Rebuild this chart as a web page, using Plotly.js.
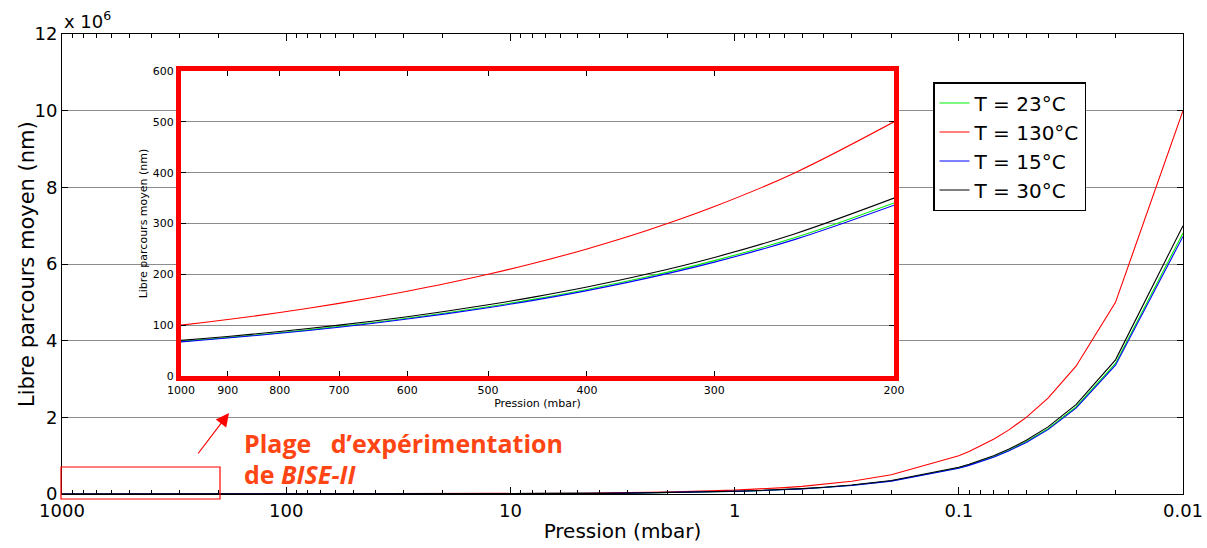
<!DOCTYPE html>
<html>
<head>
<meta charset="utf-8">
<script src="https://cdn.plot.ly/plotly-3.0.1.min.js"></script>
<style>
  html, body { margin: 0; padding: 0; background: #fff; }
  #chart { width: 1207px; height: 548px; }
</style>
</head>
<body>
<div id="chart"></div>
<script>
// Pressure samples (mbar) – main log plot
const pressure = [1000,900,800,700,600,500,400,300,200,
  100,90,80,70,60,50,40,30,20,
  10,9,8,7,6,5,4,3,2,
  1,0.9,0.8,0.7,0.6,0.5,0.4,0.3,0.2,
  0.1,0.09,0.08,0.07,0.06,0.05,0.04,0.03,0.02,0.01];

// Mean free path (nm)
const mfp23 = [68.1,75.7,85.1,97.3,113.5,136.2,170.3,227,340.5,
  681,756.7,851.3,972.9,1135,1362,1702.5,2270,3405,
  6810,7566.7,8512.5,9728.6,11350,13620,17025,22700,34050,
  68100,75667,85125,97286,113500,136200,170250,227000,340500,
  681000,756667,851250,972857,1135000,1362000,1702500,2270000,3405000,6810000];
const mfp130 = [100,111.1,125,142.9,166.7,200,250,333.3,500,
  1000,1111,1250,1429,1667,2000,2500,3333,5000,
  10000,11111,12500,14286,16667,20000,25000,33333,50000,
  100000,111111,125000,142857,166667,200000,250000,333333,500000,
  1000000,1111111,1250000,1428571,1666667,2000000,2500000,3333333,5000000,10000000];
const mfp15 = [67.2,74.7,84,96,112,134.4,168,224,336,
  672,746.7,840,960,1120,1344,1680,2240,3360,
  6720,7466.7,8400,9600,11200,13440,16800,22400,33600,
  67200,74667,84000,96000,112000,134400,168000,224000,336000,
  672000,746667,840000,960000,1120000,1344000,1680000,2240000,3360000,6720000];
const mfp30 = [70,77.8,87.5,100,116.7,140,175,233.3,350,
  700,777.8,875,1000,1166.7,1400,1750,2333.3,3500,
  7000,7777.8,8750,10000,11666.7,14000,17500,23333,35000,
  70000,77778,87500,100000,116667,140000,175000,233333,350000,
  700000,777778,875000,1000000,1166667,1400000,1750000,2333333,3500000,7000000];

// Inset (zoom on the experiment range 1000 – 200 mbar)
const insetPressure = [1000,950,900,850,800,750,700,650,600,550,500,450,400,350,300,250,200];
const inset23  = [68.1,71.7,75.7,80.1,85.1,90.8,97.3,104.8,113.5,123.8,136.2,151.3,170.3,194.6,227,272.4,340.5];
const inset130 = [100,105.3,111.1,117.6,125,133.3,142.9,153.8,166.7,181.8,200,222.2,250,285.7,333.3,400,500];
const inset15  = [67.2,70.7,74.7,79.1,84,89.6,96,103.4,112,122.2,134.4,149.3,168,192,224,268.8,336];
const inset30  = [70,73.7,77.8,82.4,87.5,93.3,100,107.7,116.7,127.3,140,155.6,175,200,233.3,280,350];

const seriesNames = ['T = 23°C','T = 130°C','T = 15°C','T = 30°C'];
const seriesData = [mfp23, mfp130, mfp15, mfp30];
const insetData = [inset23, inset130, inset15, inset30];
const seriesColors = ['#00ee00','#ff0000','#0000ff','#000000'];

// Tick labels
const mainXTicks = [1000,100,10,1,0.1,0.01];
const mainXTickText = ['1000','100','10','1','0.1','0.01'];
const mainYTicks = [0,2e6,4e6,6e6,8e6,10e6,12e6];
const mainYTickText = ['0','2','4','6','8','10','12'];
const insetXTicks = [1000,900,800,700,600,500,400,300,200];
const insetXTickText = ['1000','900','800','700','600','500','400','300','200'];
const insetYTicks = [0,100,200,300,400,500,600];

const FONT = 'DejaVu Sans, Verdana, sans-serif';
const traces = [];
seriesData.forEach((d, i) => {
  traces.push({
    x: pressure, y: d, type: 'scatter', mode: 'lines',
    name: seriesNames[i], line: {color: seriesColors[i], width: 1.1},
    xaxis: 'x', yaxis: 'y', showlegend: true, hoverinfo: 'skip'
  });
});
insetData.forEach((d, i) => {
  traces.push({
    x: insetPressure, y: d,
    type: 'scatter', mode: 'lines', name: seriesNames[i],
    line: {color: seriesColors[i], width: 1.1, shape: 'spline', smoothing: 1},
    xaxis: 'x2', yaxis: 'y2', showlegend: false, hoverinfo: 'skip'
  });
});

// geometry helpers (paper coordinates of main plot area)
const W = 1207, H = 548, mL = 62, mR = 24, mT = 34, mB = 54;
const pw = W - mL - mR, ph = H - mT - mB;
const px = v => (v - mL) / pw;
const py = v => (H - mB - v) / ph;

const layout = {
  width: W, height: H,
  margin: {l: mL, r: mR, t: mT, b: mB},
  paper_bgcolor: '#ffffff', plot_bgcolor: '#ffffff',
  font: {family: FONT, color: '#000', size: 18},
  showlegend: true,
  legend: {
    x: px(933), y: py(82), xanchor: 'left', yanchor: 'top',
    bgcolor: '#ffffff', bordercolor: '#000', borderwidth: 1.5,
    font: {family: FONT, size: 20, color: '#000'},
    itemwidth: 30, tracegroupgap: 0
  },
  xaxis: {
    type: 'log', range: [3, -2], domain: [0, 1],
    tickvals: mainXTicks, ticktext: mainXTickText,
    ticks: 'inside', ticklen: 7, tickcolor: '#000', tickwidth: 1,
    minor: {ticks: 'inside', ticklen: 4, tickcolor: '#000', dtick: 'D1', showgrid: false},
    showline: true, linecolor: '#000', linewidth: 1, mirror: 'ticks',
    showgrid: false, zeroline: false,
    tickfont: {family: FONT, size: 18, color: '#000'},
    title: {text: 'Pression (mbar)', font: {family: FONT, size: 20, color: '#000'}, standoff: 4}
  },
  yaxis: {
    range: [0, 12e6], domain: [0, 1],
    tickvals: mainYTicks, ticktext: mainYTickText,
    ticks: 'inside', ticklen: 6, tickcolor: '#000',
    showline: true, linecolor: '#000', linewidth: 1, mirror: 'ticks',
    showgrid: true, gridcolor: '#8c8c8c', gridwidth: 1, zeroline: false,
    tickfont: {family: FONT, size: 18, color: '#000'}
  },
  xaxis2: {
    anchor: 'y2', domain: [px(181), px(894)],
    type: 'log', range: [3, Math.log10(200)],
    tickvals: insetXTicks, ticktext: insetXTickText,
    ticks: 'inside', ticklen: 5, tickcolor: '#000',
    showline: true, linecolor: '#ff0000', linewidth: 5, mirror: 'ticks',
    showgrid: false, zeroline: false,
    tickfont: {family: FONT, size: 11, color: '#000'},
    title: {text: 'Pression (mbar)', font: {family: FONT, size: 11, color: '#000'}, standoff: 2}
  },
  yaxis2: {
    anchor: 'x2', domain: [py(376), py(71)],
    range: [0, 600], tickvals: insetYTicks,
    ticks: 'inside', ticklen: 5, tickcolor: '#000',
    showline: true, linecolor: '#ff0000', linewidth: 5, mirror: 'ticks',
    showgrid: true, gridcolor: '#8c8c8c', gridwidth: 1,
    zeroline: true, zerolinecolor: '#000', zerolinewidth: 2,
    tickfont: {family: FONT, size: 11, color: '#000'},
    title: {text: 'Libre parcours moyen (nm)', font: {family: FONT, size: 11, color: '#000'}, standoff: 4}
  },
  shapes: [
    {type: 'rect', xref: 'paper', yref: 'paper',
     x0: px(61), x1: px(220), y0: py(499), y1: py(467),
     line: {color: '#ff0000', width: 1.2}, fillcolor: 'rgba(0,0,0,0)', layer: 'above'}
  ],
  annotations: [
    {xref: 'paper', yref: 'paper', x: px(27), y: 0.5, xanchor: 'center', yanchor: 'middle',
     text: 'Libre parcours moyen (nm)', textangle: -90, showarrow: false,
     font: {family: FONT, size: 21, color: '#000'}},
    {xref: 'paper', yref: 'paper', x: 0, y: 1, xanchor: 'left', yanchor: 'bottom',
     text: 'x 10<sup>6</sup>', showarrow: false,
     font: {family: FONT, size: 18, color: '#000'}},
    {xref: 'paper', yref: 'paper', x: px(242), y: py(443), xanchor: 'left', yanchor: 'middle',
     text: 'Plage\u00a0\u00a0 d\u2019expérimentation', showarrow: false,
     font: {family: 'Open Sans, sans-serif', size: 25, color: '#ff4513', weight: 'bold'}},
    {xref: 'paper', yref: 'paper', x: px(242), y: py(474), xanchor: 'left', yanchor: 'middle',
     text: 'de <i>BISE-II</i>', showarrow: false,
     font: {family: 'Open Sans, sans-serif', size: 25, color: '#ff4513', weight: 'bold'}},
    {xref: 'paper', yref: 'paper', x: px(229), y: py(413), text: '',
     showarrow: true, axref: 'pixel', ayref: 'pixel', ax: -32, ay: 42,
     arrowhead: 2, arrowsize: 2.2, arrowwidth: 1.2, arrowcolor: '#ff0000'}
  ]
};

Plotly.newPlot('chart', traces, layout, {staticPlot: true, displayModeBar: false});
</script>
</body>
</html>
